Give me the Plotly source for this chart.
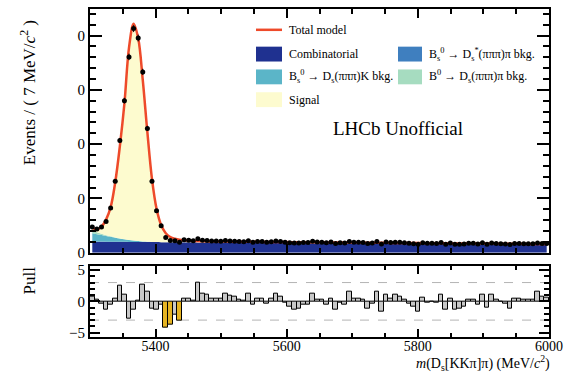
import numpy as np
import plotly.graph_objects as go

# ---------------- data ----------------
bin_width = 7.0
x_low, x_high = 5300, 6000
bin_centers = np.arange(x_low + bin_width / 2, x_high, bin_width)

combinatorial = [205, 204, 204, 203, 203, 202, 201, 201, 200, 200,
                 199, 198, 198, 197, 197, 196, 195, 195, 194, 193,
                 193, 192, 192, 191, 191, 190, 189, 189, 188, 188,
                 187, 186, 186, 185, 185, 184, 184, 183, 182, 182,
                 181, 181, 180, 179, 179, 178, 178, 177, 176, 176,
                 175, 175, 174, 173, 173, 172, 172, 171, 170, 170,
                 169, 169, 168, 167, 167, 166, 166, 165, 164, 164,
                 163, 163, 162, 161, 161, 160, 160, 159, 158, 158,
                 157, 157, 156, 155, 155, 154, 154, 153, 152, 152,
                 151, 151, 150, 149, 149, 148, 148, 147, 146, 146]

bs_dsstar_pi = [5, 4, 3, 2, 1, 1] + [0] * 94
bs_dsk = [150, 135, 120, 105, 90, 75, 60, 46, 34, 24, 16, 10, 6, 3, 1] + [0] * 85
b0_dspi = [50, 35, 22, 14, 8, 5, 3, 2, 1] + [0] * 91

signal = ([50, 52, 131, 286, 538, 1017, 1696, 2501, 3545, 3996,
           3735, 2972, 2016, 1160, 612, 314, 165, 95, 64, 47,
           37, 32, 27, 24, 21, 20]
          + [19, 19, 19, 19, 18, 18, 18, 18, 18, 18]
          + [18, 18, 18, 17, 17, 17, 17, 17, 17, 17]
          + [17, 17, 17, 17, 17, 17, 17, 16, 16, 16]
          + [16] * 10
          + [16, 16, 16, 16, 16, 16, 16, 16, 15, 15]
          + [15] * 24)

data_counts = [475, 436, 473, 575, 825, 1318, 2070, 2802, 3608, 4129,
               3956, 3331, 2291, 1316, 773, 496, 280, 227, 223, 192,
               238, 230, 220, 259, 231, 224, 215, 215, 214, 224,
               218, 214, 208, 204, 221, 194, 208, 208, 196, 205,
               215, 208, 194, 185, 178, 178, 188, 187, 210, 197,
               195, 184, 198, 171, 186, 180, 209, 192, 193, 189,
               169, 181, 206, 161, 197, 189, 195, 192, 184, 175,
               168, 156, 186, 174, 176, 172, 188, 157, 180, 156,
               156, 160, 174, 174, 163, 183, 156, 181, 170, 167,
               162, 151, 170, 170, 167, 166, 166, 181, 171, 169]

pulls = [0.7, 0.3, -0.3, -1.4, -0.5, 0.5, 2.5, 1.0, -2.8, -1.4,
         0.1, 2.7, 1.5, -1.2, -1.3, -0.6, -4.2, -3.7, -2.2, -3.1,
         0.5, 0.4, 0.1, 3.0, 1.3, 1.0, 0.5, 0.5, 0.5, 1.2,
         0.9, 0.7, 0.3, 0.1, 1.3, -0.6, 0.4, 0.5, -0.3, 0.4,
         1.2, 0.7, -0.2, -0.8, -1.3, -1.2, -0.5, -0.5, 1.2, 0.3,
         0.2, -0.6, 0.5, -1.3, -0.2, -0.6, 1.5, 0.4, 0.5, 0.2,
         -1.2, -0.3, 1.6, -1.6, 1.0, 0.5, 1.0, 0.8, 0.3, -0.4,
         -0.8, -1.7, 0.6, -0.2, 0.0, -0.2, 1.0, -1.3, 0.5, -1.3,
         -1.2, -0.9, 0.2, 0.3, -0.5, 1.1, -1.0, 1.0, 0.2, 0.0,
         -0.3, -1.2, 0.4, 0.5, 0.2, 0.2, 0.2, 1.5, 0.8, 0.6]

y_tick_vals = [0, 1000, 2000, 3000, 4000]
y_tick_text = ["0", "0", "0", "0", "0"]
x_tick_vals = [5400, 5600, 5800, 6000]

# ---------------- styles ----------------
C_COMB = "#1f3190"
C_DSSTAR = "#3f7fbf"
C_DSK = "#5bb5c8"
C_B0 = "#a6dcc0"
C_SIG = "#fdfbcf"
C_TOTAL = "#ee4a2a"
C_PULL = "#c8c8c8"
C_PULL_HI = "#e6b422"
FONT = "Liberation Serif"

total = (np.array(combinatorial) + np.array(bs_dsstar_pi) + np.array(bs_dsk)
         + np.array(b0_dspi) + np.array(signal))

fig = go.Figure()

components = [
    (combinatorial, C_COMB, "Combinatorial"),
    (bs_dsstar_pi, C_DSSTAR, "Ds*pi"),
    (bs_dsk, C_DSK, "DsK"),
    (b0_dspi, C_B0, "B0 Ds pi"),
    (signal, C_SIG, "Signal"),
]
for vals, col, name in components:
    fig.add_trace(go.Scatter(
        x=bin_centers, y=vals, stackgroup="stack", mode="lines",
        line=dict(width=0, color=col, shape="spline"),
        fillcolor=col, name=name, showlegend=False,
        xaxis="x", yaxis="y"))

fig.add_trace(go.Scatter(
    x=bin_centers, y=total, mode="lines",
    line=dict(color=C_TOTAL, width=2.5, shape="spline"),
    showlegend=False, xaxis="x", yaxis="y"))

fig.add_trace(go.Scatter(
    x=bin_centers, y=data_counts, mode="markers",
    marker=dict(color="black", size=5),
    error_y=dict(type="sqrt", color="black", thickness=1, width=0),
    showlegend=False, xaxis="x", yaxis="y"))

pull_colors = [C_PULL_HI if abs(p) > 3 else C_PULL for p in pulls]
fig.add_trace(go.Bar(
    x=bin_centers, y=pulls, width=bin_width,
    marker=dict(color=pull_colors, line=dict(color="black", width=1)),
    showlegend=False, xaxis="x2", yaxis="y2"))

axis_common = dict(showline=True, linecolor="black", linewidth=2,
                   mirror="ticks", ticks="inside", tickcolor="black",
                   tickwidth=1.5, showgrid=False, zeroline=False)

fig.update_layout(
    width=569, height=372,
    margin=dict(l=90, r=20, t=6, b=35),
    paper_bgcolor="white", plot_bgcolor="white",
    bargap=0,
    xaxis=dict(domain=[0, 1], anchor="y", range=[x_low, x_high],
               tickvals=x_tick_vals, showticklabels=False, ticklen=9,
               minor=dict(dtick=50, tick0=5300, ticklen=5, ticks="inside",
                          tickcolor="black"),
               **axis_common),
    yaxis=dict(domain=[0.2568, 1], anchor="x", range=[0, 4490],
               tickvals=y_tick_vals, ticktext=y_tick_text, ticklen=12,
               tickfont=dict(family=FONT, size=15, color="black"),
               minor=dict(dtick=200, ticklen=6, ticks="inside",
                          tickcolor="black"),
               **axis_common),
    xaxis2=dict(domain=[0, 1], anchor="y2", range=[x_low, x_high],
                matches="x", tickvals=x_tick_vals, ticklen=8,
                tickfont=dict(family=FONT, size=14, color="black"),
                ticklabelstandoff=-5,
                minor=dict(dtick=50, tick0=5300, ticklen=4, ticks="inside",
                           tickcolor="black"),
                **axis_common),
    yaxis2=dict(domain=[0, 0.2175], anchor="x2", range=[-5.7, 5.7],
                tickvals=[-5, 0, 5], ticktext=["\u22125", "0", "5"],
                ticklen=10,
                tickfont=dict(family=FONT, size=15, color="black"),
                minor=dict(dtick=1, ticklen=5, ticks="inside",
                           tickcolor="black"),
                **axis_common),
)

# pull reference lines
for lvl in (-3, 3):
    fig.add_shape(type="line", xref="x2 domain", yref="y2",
                  x0=0, x1=1, y0=lvl, y1=lvl, layer="below",
                  line=dict(color="#b4b4b4", width=1, dash="dash"))

# ---------------- legend (manual) ----------------
def px_x(px):
    return (px - 90) / 459.0


def px_y(py):
    return (337 - py) / 331.0


leg_font = dict(family=FONT, size=12, color="black")
fig.add_shape(type="line", xref="paper", yref="paper",
              x0=px_x(256), x1=px_x(282), y0=px_y(27), y1=px_y(27),
              line=dict(color=C_TOTAL, width=2.5))
boxes = [
    (256, 282, 44, 59, C_COMB),
    (256, 282, 67, 82, C_DSK),
    (256, 282, 90, 105, C_SIG),
    (398, 422, 44, 59, C_DSSTAR),
    (398, 422, 67, 82, C_B0),
]
for x0, x1, y0, y1, col in boxes:
    fig.add_shape(type="rect", xref="paper", yref="paper",
                  x0=px_x(x0), x1=px_x(x1), y0=px_y(y1), y1=px_y(y0),
                  fillcolor=col, line=dict(width=0))

labels = [
    (287, 27, "Total model"),
    (287, 51.5, "Combinatorial"),
    (287, 74.5, "B<sub>s</sub><sup>0</sup> \u2192 D<sub>s</sub>(\u03c0\u03c0\u03c0)K bkg."),
    (287, 97.5, "Signal"),
    (427, 51.5, "B<sub>s</sub><sup>0</sup> \u2192 D<sub>s</sub><sup>*</sup>(\u03c0\u03c0\u03c0)\u03c0 bkg."),
    (427, 74.5, "B<sup>0</sup> \u2192 D<sub>s</sub>(\u03c0\u03c0\u03c0)\u03c0 bkg."),
]
for x, y, t in labels:
    fig.add_annotation(xref="paper", yref="paper", x=px_x(x), y=px_y(y),
                       text=t, showarrow=False, xanchor="left",
                       yanchor="middle", font=leg_font)

fig.add_annotation(xref="paper", yref="paper", x=px_x(398), y=px_y(127),
                   text="LHCb Unofficial", showarrow=False,
                   xanchor="center", yanchor="middle",
                   font=dict(family=FONT, size=19, color="black"))

# axis titles
fig.add_annotation(xref="paper", yref="paper", x=px_x(28), y=px_y(90),
                   text="Events / ( 7 MeV/<i>c</i><sup>2</sup> )",
                   textangle=-90, showarrow=False, xanchor="center",
                   yanchor="middle",
                   font=dict(family=FONT, size=17, color="black"))
fig.add_annotation(xref="paper", yref="paper", x=px_x(30), y=px_y(280),
                   text="Pull", textangle=-90, showarrow=False,
                   xanchor="center", yanchor="middle",
                   font=dict(family=FONT, size=17, color="black"))
fig.add_annotation(xref="paper", yref="paper", x=px_x(552), y=px_y(363),
                   text="<i>m</i>(D<sub>s</sub>[KK\u03c0]\u03c0) (MeV/<i>c</i><sup>2</sup>)",
                   showarrow=False, xanchor="right", yanchor="middle",
                   font=dict(family=FONT, size=14, color="black"))

fig.write_html("out.html")
